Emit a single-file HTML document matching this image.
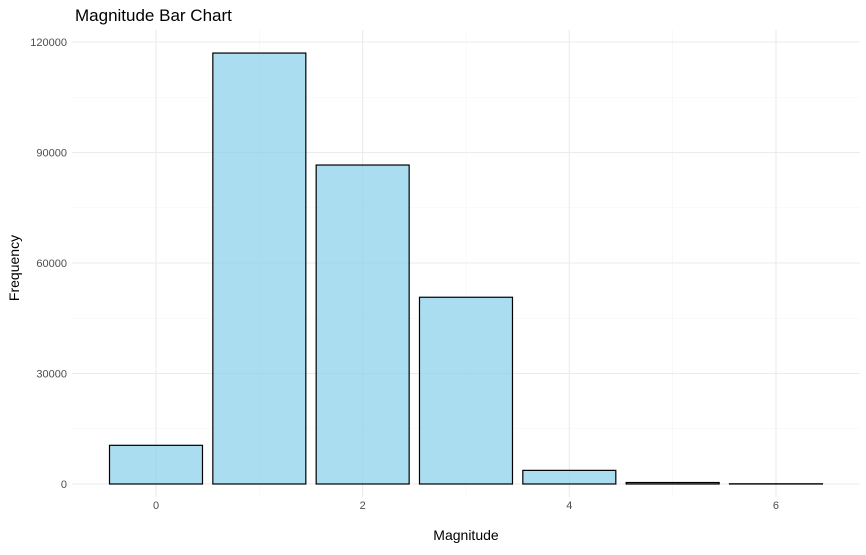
<!DOCTYPE html>
<html><head><meta charset="utf-8"><style>
body{margin:0;background:#fff;font-family:"Liberation Sans",sans-serif}
</style></head><body>
<svg id="c" width="866" height="550" xmlns="http://www.w3.org/2000/svg">
<text x="75" y="21" font-size="17" fill="#000">Magnitude Bar Chart</text>
<g id="grid"></g><g id="bars"></g><g id="axes"></g>
<text x="466" y="540" font-size="14" text-anchor="middle">Magnitude</text>
<text transform="translate(19,268) rotate(-90)" font-size="14" text-anchor="middle">Frequency</text>
</svg>
<script>
const categories=[0,1,2,3,4,5,6];
const frequency=[10500,117000,86600,50700,3700,400,60];
const yTicks=[0,30000,60000,90000,120000];
const xTicks=[0,2,4,6];
const ns="http://www.w3.org/2000/svg";
const x=v=>156+v*103.33;
const y=v=>484-v*442/120000;
function mk(t,a,p){const e=document.createElementNS(ns,t);for(const k in a)e.setAttribute(k,a[k]);p.appendChild(e);return e;}
const g=document.getElementById('grid'),b=document.getElementById('bars'),ax=document.getElementById('axes');
for(let v=-15000;v<=135000;v+=15000){const yy=y(v);if(yy<30||yy>497)continue;
 const major=v%30000===0;const l=mk('line',{x1:72,x2:860,y1:yy,y2:yy,stroke:major?'#ebebeb':'#f4f4f4','stroke-width':major?1.1:0.6},g);
 }
for(let v=-0.5;v<=6.5;v+=1){}
for(let v=0;v<=6;v+=1){const major=v%2===0;const l=mk('line',{x1:x(v),x2:x(v),y1:30,y2:497,stroke:major?'#ebebeb':'#f4f4f4','stroke-width':major?1.1:0.6},g);
 }
categories.forEach((c,i)=>{const r=mk('rect',{x:x(c)-46.5,width:93,y:y(frequency[i]),height:y(0)-y(frequency[i]),fill:'#87ceeb','fill-opacity':0.7,stroke:'#000','stroke-width':1.2},b);
 });
yTicks.forEach(v=>{const t=mk('text',{x:67,y:y(v)+4,'font-size':11,fill:'#4d4d4d','text-anchor':'end'},ax);t.textContent=v;
 });
xTicks.forEach(v=>{const t=mk('text',{x:x(v),y:509,'font-size':11,fill:'#4d4d4d','text-anchor':'middle'},ax);t.textContent=v;
 });
</script>
</body></html>
